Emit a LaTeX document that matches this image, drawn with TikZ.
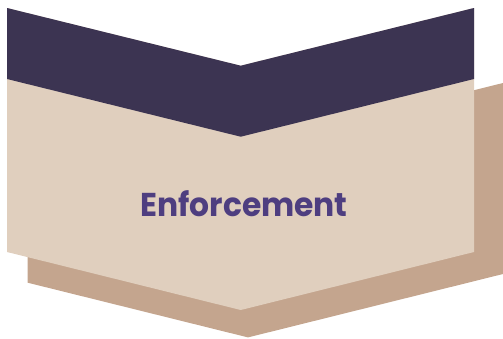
\documentclass[tikz,border=0pt]{standalone}
\usepackage{fontspec}
\setmainfont{Poppins}
\definecolor{darkband}{RGB}{60,52,82}
\definecolor{beige}{RGB}{224,207,190}
\definecolor{tan}{RGB}{196,165,142}
\definecolor{txtpurple}{RGB}{78,62,128}
\begin{document}
\begin{tikzpicture}[x=1pt,y=-1pt,
  label/.style={font=\bfseries\fontsize{33}{38}\selectfont, text=txtpurple, inner sep=0pt}]
\useasboundingbox (0,0) rectangle (503,338);
% shadow
\fill[tan] (27.7,150) -- (27.7,282.7) -- (248,337.4) -- (503,274) -- (503,83) -- (474,90.2) -- (474,150) -- cycle;
% beige body
\fill[beige] (7,8) -- (240.7,65.7) -- (474,8) -- (474,252) -- (240.7,310) -- (7,252) -- cycle;
% dark band
\fill[darkband] (7,8) -- (240.7,65.7) -- (474,8) -- (474,79) -- (240.7,136.7) -- (7,79) -- cycle;
\node[label, anchor=base] (t) at (244,216.7) {\scalebox{0.95}[1]{Enforcement}};
\end{tikzpicture}
\end{document}
